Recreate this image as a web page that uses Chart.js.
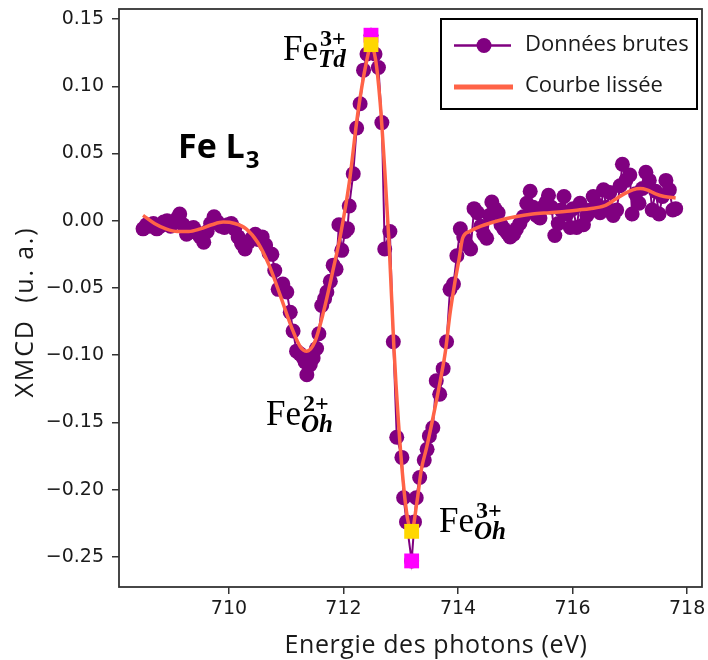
<!DOCTYPE html>
<html lang="fr">
<head>
<meta charset="utf-8">
<script src="https://cdn.jsdelivr.net/npm/chart.js@4.4.1/dist/chart.umd.min.js"></script>
<style>
  html, body { margin: 0; padding: 0; background: #fff; }
  #graphe { display: block; }
</style>
</head>
<body>
<canvas id="graphe" width="708" height="660"></canvas>
<script>
// Données brutes (XMCD au seuil L3 du fer)
const energieBrute = [
  708.50, 708.56, 708.62, 708.68, 708.74, 708.80, 708.86, 708.92, 708.98, 709.04,
  709.10, 709.14, 709.20, 709.26, 709.32, 709.38, 709.44, 709.50, 709.56, 709.62,
  709.68, 709.74, 709.80, 709.86, 709.92, 709.98, 710.04, 710.10, 710.16, 710.22,
  710.28, 710.34, 710.40, 710.46, 710.52, 710.58, 710.64, 710.70, 710.75, 710.80,
  710.86, 710.94, 711.01, 711.07, 711.12, 711.18, 711.24, 711.30, 711.33, 711.36,
  711.42, 711.47, 711.53, 711.57, 711.62, 711.67, 711.71, 711.77, 711.82, 711.87,
  711.92, 711.97, 712.03, 712.07, 712.10, 712.17, 712.23, 712.29, 712.35, 712.41,
  712.48, 712.55, 712.61, 712.67, 712.72, 712.81, 712.87, 712.93, 713.02, 713.05,
  713.10, 713.19, 713.24, 713.27, 713.33, 713.41, 713.46, 713.50, 713.56, 713.62,
  713.68, 713.74, 713.80, 713.86, 713.92, 713.98, 714.04, 714.10, 714.16, 714.22,
  714.28, 714.34, 714.40, 714.45, 714.50, 714.55, 714.59, 714.64, 714.70, 714.75,
  714.80, 714.86, 714.91, 714.97, 715.02, 715.08, 715.14, 715.20, 715.26, 715.31,
  715.37, 715.43, 715.48, 715.54, 715.58, 715.63, 715.69, 715.75, 715.80, 715.85,
  715.90, 715.96, 716.01, 716.07, 716.13, 716.19, 716.25, 716.31, 716.36, 716.42,
  716.48, 716.54, 716.59, 716.65, 716.71, 716.77, 716.83, 716.87, 716.93, 717.00,
  717.04, 717.10, 717.16, 717.22, 717.28, 717.34, 717.39, 717.45, 717.51, 717.57,
  717.63, 717.69, 717.75, 717.80
];
const xmcdBrut = [
  -0.006, -0.003, -0.004, -0.002, -0.006, -0.004, -0.001, 0.000, -0.004, -0.001,
  0.002, 0.005, -0.003, -0.010, -0.006, -0.005, -0.009, -0.012, -0.016, -0.008,
  -0.002, 0.003, -0.001, -0.004, -0.005, -0.003, -0.002, -0.006, -0.012, -0.017,
  -0.021, -0.016, -0.013, -0.010, -0.014, -0.012, -0.018, -0.024, -0.025, -0.037,
  -0.051, -0.047, -0.053, -0.068, -0.082, -0.097, -0.099, -0.102, -0.105, -0.1145,
  -0.107, -0.102, -0.095, -0.084, -0.063, -0.058, -0.053, -0.045, -0.033, -0.036,
  -0.003, -0.022, -0.008, -0.006, 0.011, 0.035, 0.069, 0.087, 0.112, 0.124,
  0.138, 0.124, 0.114, 0.073, -0.021, -0.008, -0.090, -0.161, -0.176, -0.206,
  -0.224, -0.253, -0.224, -0.206, -0.191, -0.178, -0.170, -0.160, -0.154, -0.119,
  -0.129, -0.110, -0.090, -0.051, -0.047, -0.026, -0.006, -0.012, -0.018, -0.021,
  0.009, 0.006, -0.004, -0.010, -0.013, 0.004, 0.014, 0.009, 0.006, -0.003,
  -0.006, -0.009, -0.012, -0.010, -0.006, -0.002, 0.003, 0.013, 0.022, 0.010,
  0.004, 0.002, 0.010, 0.014, 0.019, 0.010, -0.011, -0.002, 0.008, 0.018,
  0.005, -0.005, 0.009, -0.005, 0.013, -0.003, 0.004, 0.008, 0.018, 0.012,
  0.006, 0.023, 0.010, 0.021, 0.004, 0.008, 0.026, 0.042, 0.030, 0.034,
  0.005, 0.020, 0.013, 0.024, 0.036, 0.030, 0.008, 0.022, 0.005, 0.018,
  0.030, 0.023, 0.008, 0.009
];

// Courbe lissée
const energieLisse = [
  708.50, 708.70, 708.90, 709.10, 709.30, 709.50, 709.70, 709.90, 710.10, 710.30,
  710.50, 710.70, 710.90, 711.10, 711.25, 711.36, 711.50, 711.65, 711.80, 711.95,
  712.10, 712.25, 712.40, 712.48, 712.56, 712.64, 712.72, 712.80, 712.88, 712.96,
  713.04, 713.12, 713.19, 713.28, 713.36, 713.45, 713.57, 713.69, 713.78, 713.86,
  713.94, 714.02, 714.08, 714.20, 714.40, 714.70, 715.00, 715.30, 715.60, 715.90,
  716.10, 716.30, 716.55, 716.75, 716.90, 717.05, 717.18, 717.30, 717.45, 717.60,
  717.80
];
const xmcdLisse = [
  0.004, -0.002, -0.006, -0.008, -0.008, -0.006, -0.003, -0.001, -0.002, -0.006,
  -0.016, -0.033, -0.056, -0.080, -0.094, -0.097, -0.090, -0.068, -0.040, -0.010,
  0.028, 0.080, 0.118, 0.130, 0.120, 0.088, 0.038, -0.020, -0.094, -0.150,
  -0.193, -0.222, -0.231, -0.210, -0.185, -0.169, -0.145, -0.119, -0.097, -0.069,
  -0.047, -0.028, -0.013, -0.008, -0.004, 0.000, 0.003, 0.005, 0.006, 0.007,
  0.008, 0.009, 0.011, 0.016, 0.020, 0.023, 0.024, 0.023, 0.020, 0.018,
  0.017
];

// Extrema (brut en magenta, lissé en jaune)
const energieExtrema = [712.48, 713.19];
const extremaBrut = [0.138, -0.253];
const extremaLisse = [0.131, -0.231];

const ticksX = [710, 712, 714, 716, 718];
const ticksY = [0.15, 0.10, 0.05, 0.00, -0.05, -0.10, -0.15, -0.20, -0.25];

function points(xs, ys) {
  return xs.map((x, i) => ({ x: x, y: ys[i] }));
}

const couleurTexte = '#1a1a1a';
const couleurAxe = '#333333';

// Cadre complet autour de la zone de tracé
const cadre = {
  id: 'cadre',
  afterDatasetsDraw(chart) {
    const a = chart.chartArea;
    const ctx = chart.ctx;
    ctx.save();
    ctx.strokeStyle = couleurAxe;
    ctx.lineWidth = 1.8;
    ctx.strokeRect(a.left, a.top, a.right - a.left, a.bottom - a.top);
    ctx.restore();
  }
};

function labelFe(ctx, x, yBase, sup, sub) {
  ctx.font = '35px "Liberation Serif"';
  ctx.fillText('Fe', x, yBase);
  const w = ctx.measureText('Fe').width;
  ctx.font = 'bold 24px "Liberation Serif"';
  ctx.fillText(sup, x + w + 2, yBase - 14);
  ctx.font = 'italic bold 25px "Liberation Serif"';
  ctx.fillText(sub, x + w, yBase + 7);
}

// Annotations, titres d'axes et légende
const textes = {
  id: 'textes',
  afterDraw(chart) {
    const ctx = chart.ctx;
    ctx.save();
    ctx.fillStyle = '#000';
    ctx.textAlign = 'left';
    ctx.textBaseline = 'alphabetic';

    // Fe L3
    ctx.font = 'bold 34px "Open Sans"';
    ctx.fillText('Fe L', 178, 158);
    const wl = ctx.measureText('Fe L').width;
    ctx.font = 'bold 24px "Open Sans"';
    ctx.fillText('3', 178 + wl + 1, 168);

    labelFe(ctx, 283, 60, '3+', 'Td');
    labelFe(ctx, 266, 425, '2+', 'Oh');
    labelFe(ctx, 439, 532, '3+', 'Oh');

    // titres des axes
    ctx.fillStyle = couleurTexte;
    ctx.font = '25px "Open Sans"';
    ctx.letterSpacing = '0.6px';
    ctx.textAlign = 'center';
    ctx.fillText('Energie des photons (eV)', 436, 653);
    ctx.save();
    ctx.translate(33, 312);
    ctx.rotate(-Math.PI / 2);
    ctx.letterSpacing = '1.8px';
    ctx.fillText('XMCD  (u. a.)', 0, 0);
    ctx.restore();
    ctx.letterSpacing = '0px';

    // légende
    ctx.fillStyle = '#fff';
    ctx.fillRect(441, 19, 256, 90);
    ctx.strokeStyle = '#000';
    ctx.lineWidth = 2;
    ctx.strokeRect(441, 19, 256, 90);

    ctx.strokeStyle = '#800080';
    ctx.lineWidth = 2.5;
    ctx.beginPath();
    ctx.moveTo(454, 45.5);
    ctx.lineTo(511, 45.5);
    ctx.stroke();
    ctx.fillStyle = '#800080';
    ctx.beginPath();
    ctx.arc(484, 45.5, 7.5, 0, 2 * Math.PI);
    ctx.fill();

    ctx.strokeStyle = '#FF6347';
    ctx.lineWidth = 5;
    ctx.beginPath();
    ctx.moveTo(454, 87);
    ctx.lineTo(513, 87);
    ctx.stroke();

    ctx.fillStyle = couleurTexte;
    ctx.font = '22px "Open Sans"';
    ctx.textAlign = 'left';
    ctx.textBaseline = 'middle';
    ctx.fillText('Données brutes', 525, 45);
    ctx.fillText('Courbe lissée', 525, 86);
    ctx.restore();
  }
};

const ctx = document.getElementById('graphe').getContext('2d');
const graphe = new Chart(ctx, {
  type: 'line',
  data: {
    datasets: [
      {
        label: 'Extrema lissés',
        data: points(energieExtrema, extremaLisse),
        showLine: false,
        pointStyle: 'rect',
        pointRadius: 10.5,
        backgroundColor: '#FFD700',
        borderWidth: 0,
        order: 0
      },
      {
        label: 'Courbe lissée',
        data: points(energieLisse, xmcdLisse),
        borderColor: '#FF6347',
        borderWidth: 3.5,
        pointRadius: 0,
        cubicInterpolationMode: 'monotone',
        order: 1
      },
      {
        label: 'Extrema bruts',
        data: points(energieExtrema, extremaBrut),
        showLine: false,
        pointStyle: 'rect',
        pointRadius: 10.5,
        backgroundColor: '#FF00FF',
        borderWidth: 0,
        order: 2
      },
      {
        label: 'Données brutes',
        data: points(energieBrute, xmcdBrut),
        borderColor: '#800080',
        backgroundColor: '#800080',
        borderWidth: 2,
        pointRadius: 7.5,
        pointBorderWidth: 0,
        tension: 0,
        order: 3
      }
    ]
  },
  options: {
    responsive: false,
    animation: false,
    devicePixelRatio: 1,
    layout: { autoPadding: false, padding: { top: 9, right: 6, left: 0, bottom: 0 } },
    plugins: {
      legend: { display: false },
      tooltip: { enabled: false }
    },
    scales: {
      x: {
        type: 'linear',
        min: 708.08,
        max: 718.26,
        afterFit(scale) {
          scale.height = 73;
          scale.paddingLeft = 0;
          scale.paddingRight = 0;
        },
        afterBuildTicks(scale) { scale.ticks = ticksX.map(v => ({ value: v })); },
        grid: { drawOnChartArea: false, drawTicks: true, tickLength: 7, color: couleurAxe, lineWidth: 1.5 },
        border: { display: false },
        ticks: {
          padding: 4,
          color: couleurTexte,
          font: { family: '"DejaVu Sans"', size: 19 },
          maxRotation: 0,
          callback: v => String(v)
        }
      },
      y: {
        type: 'linear',
        min: -0.2724,
        max: 0.1575,
        afterFit(scale) {
          scale.width = 119;
          scale.paddingTop = 0;
          scale.paddingBottom = 0;
        },
        afterBuildTicks(scale) { scale.ticks = ticksY.map(v => ({ value: v })); },
        grid: { drawOnChartArea: false, drawTicks: true, tickLength: 7, color: couleurAxe, lineWidth: 1.5 },
        border: { display: false },
        ticks: {
          padding: 8,
          color: couleurTexte,
          font: { family: '"DejaVu Sans"', size: 19 },
          callback: v => v.toFixed(2).replace('-', '\u2212')
        }
      }
    }
  },
  plugins: [cadre, textes]
});
</script>
</body>
</html>
